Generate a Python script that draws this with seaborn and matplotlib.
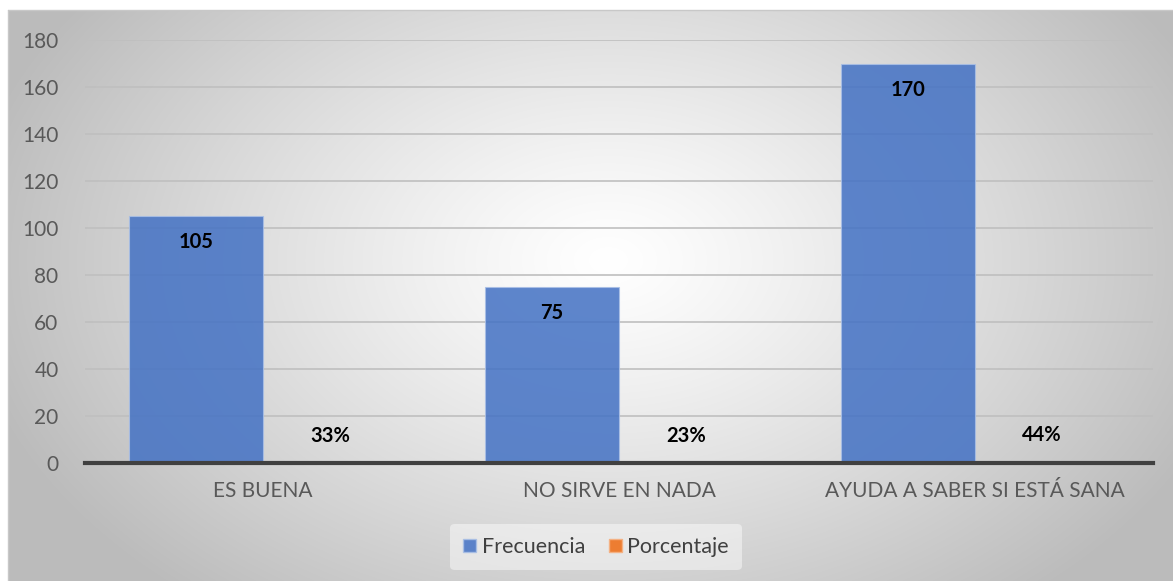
import numpy as np
import pandas as pd
import matplotlib.pyplot as plt
from matplotlib.patches import Patch
import seaborn as sns

categorias = ['ES BUENA', 'NO SIRVE EN NADA', 'AYUDA A SABER SI ESTÁ SANA']
frecuencia = [105, 75, 170]
porcentaje = [0.33, 0.23, 0.44]
series = ['Frecuencia', 'Porcentaje']
colores = ['#4472C4', '#ED7D31']

df = pd.DataFrame({
    'categoria': categorias * 2,
    'valor': frecuencia + porcentaje,
    'serie': [series[0]] * 3 + [series[1]] * 3,
})

sns.set_style('white')
plt.rcParams['font.family'] = ['Lato', 'DejaVu Sans']

fig = plt.figure(figsize=(11.73, 5.81), dpi=100)
fig.patch.set_facecolor('white')

# fondo con degradado radial (como en Excel)
bg = fig.add_axes([8 / 1173, 0, 1 - 8 / 1173, 1 - 10 / 581])
yy, xx = np.mgrid[0:571, 0:1165]
cx, cy = 600, 250
r = np.sqrt(((xx - cx) / 620.0) ** 2 + ((yy - cy) / 420.0) ** 2)
r = np.clip(r, 0, 1.05)
g = 1.0 - 0.25 * r ** 1.2
bg.imshow(np.dstack([g, g, g]), aspect='auto', extent=[0, 1, 0, 1], zorder=0)
bg.axis('off')
fig.add_artist(plt.Line2D([8 / 1173, 1], [1 - 10 / 581] * 2, color='#c8c8c8', lw=1))
fig.add_artist(plt.Line2D([8 / 1173] * 2, [0, 1 - 10 / 581], color='#c8c8c8', lw=1))

ax = fig.add_axes([85 / 1173, 1 - 463 / 581, (1153 - 85) / 1173, (463 - 40) / 581])
ax.set_facecolor('none')

sns.barplot(data=df, x='categoria', y='valor', hue='serie', order=categorias,
            hue_order=series, palette=colores, width=0.755, saturation=1,
            ax=ax, zorder=3)

for p in ax.containers[0]:
    p.set_alpha(0.86)
    p.set_edgecolor('#a9bfe6')
    p.set_linewidth(0.8)

ax.bar_label(ax.containers[0], labels=[str(v) for v in frecuencia], padding=-26,
             fontsize=14.5, fontweight='bold', color='black', zorder=5)
ax.bar_label(ax.containers[1], labels=[f'{int(round(v * 100))}%' for v in porcentaje],
             padding=12, fontsize=14.5, fontweight='bold', color='black', zorder=5)

ax.set_ylim(0, 180)
ax.set_xlim(-0.5, 2.5)
ax.set_yticks(range(0, 181, 20))
ax.yaxis.grid(True, color='#bfbfbf', lw=1.2, zorder=0)
ax.set_axisbelow(True)
for s in ['top', 'right', 'left']:
    ax.spines[s].set_visible(False)
ax.spines['bottom'].set_color('#404040')
ax.spines['bottom'].set_linewidth(3)
ax.spines['bottom'].set_zorder(6)
ax.tick_params(axis='both', length=0, labelsize=15, labelcolor='#595959')
ax.tick_params(axis='y', pad=19)
ax.tick_params(axis='x', pad=13)
ax.set_xlabel('')
ax.set_ylabel('')

if ax.get_legend() is not None:
    ax.get_legend().remove()

handles = [Patch(facecolor=colores[0], alpha=0.86, edgecolor='#a9bfe6'),
           Patch(facecolor=colores[1], edgecolor='#f4b183')]
leg = fig.legend(handles, series, loc='center', bbox_to_anchor=(596 / 1173, 1 - 547 / 581),
                 ncol=2, frameon=True, fontsize=15.5, handlelength=0.6, handleheight=0.6,
                 handletextpad=0.25, columnspacing=1.1, borderpad=0.6)
leg.get_frame().set_facecolor('white')
leg.get_frame().set_alpha(0.45)
leg.get_frame().set_edgecolor('none')
for t in leg.get_texts():
    t.set_color('#404040')

fig.savefig('out.png', dpi=100)
